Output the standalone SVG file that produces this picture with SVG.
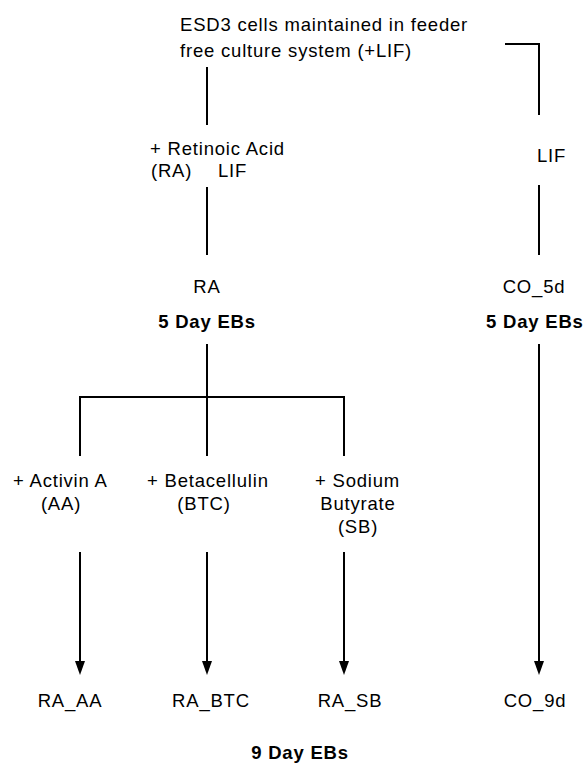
<svg xmlns="http://www.w3.org/2000/svg" width="586" height="764" viewBox="0 0 586 764">
<defs>
<style>
text{font-family:"Liberation Sans",Arial,sans-serif;font-size:18.5px;letter-spacing:0.8px;fill:#000}
.b{font-weight:bold}
.m{text-anchor:middle}
.c{stroke:#000;stroke-width:2;fill:none}
.ah{fill:#000}
</style>
</defs>
<rect width="586" height="764" fill="#fff"/>
<g id="connectors">
<path class="c" d="M207,67 V125"/>
<path class="c" d="M505,44 H539 V115"/>
<path class="c" d="M207,187 V255"/>
<path class="c" d="M539,185 V255"/>
<path class="c" d="M207,344 V397 M80,456 V397 H344 V456 M207,397 V456"/>
<path class="c" d="M80,552 V662 M207,552 V662 M344,552 V662 M539,344 V662"/>
<path class="ah" d="M75,661 L85,661 L80,675 Z"/>
<path class="ah" d="M202,661 L212,661 L207,675 Z"/>
<path class="ah" d="M339,661 L349,661 L344,675 Z"/>
<path class="ah" d="M534,661 L544,661 L539,675 Z"/>
</g>
<g id="start">
<text x="180" y="31">ESD3 cells maintained in feeder</text>
<text x="180" y="57">free culture system (+LIF)</text>
</g>
<g id="ra-treatment">
<text x="150" y="155">+ Retinoic Acid</text>
<text x="151" y="177">(RA)</text>
<text x="218" y="177">LIF</text>
</g>
<g id="lif-right">
<text x="537" y="162">LIF</text>
</g>
<g id="ra-5d">
<text class="m" x="207" y="293">RA</text>
<text class="m b" x="207" y="328">5 Day EBs</text>
</g>
<g id="co-5d">
<text class="m" x="534" y="293">CO_5d</text>
<text class="b" x="486" y="328">5 Day EBs</text>
</g>
<g id="aa">
<text x="13" y="487">+ Activin A</text>
<text class="m" x="61" y="510">(AA)</text>
</g>
<g id="btc">
<text x="147" y="487">+ Betacellulin</text>
<text class="m" x="204" y="510">(BTC)</text>
</g>
<g id="sb">
<text x="315" y="487">+ Sodium</text>
<text class="m" x="358" y="510">Butyrate</text>
<text class="m" x="358" y="533">(SB)</text>
</g>
<g id="ra-aa"><text class="m" x="70" y="707">RA_AA</text></g>
<g id="ra-btc"><text class="m" x="211" y="707">RA_BTC</text></g>
<g id="ra-sb"><text class="m" x="350" y="707">RA_SB</text></g>
<g id="co-9d"><text class="m" x="535" y="707">CO_9d</text></g>
<g id="label-9d"><text class="m b" x="300" y="759">9 Day EBs</text></g>
</svg>
